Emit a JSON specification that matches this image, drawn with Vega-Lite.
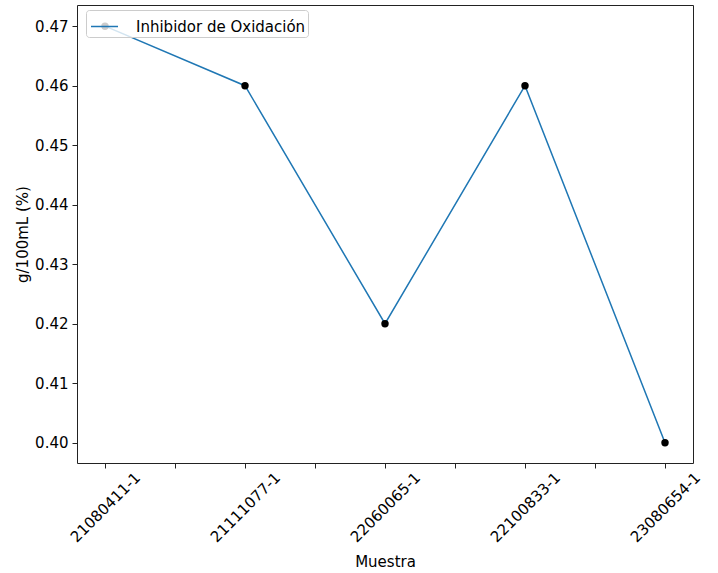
{
  "$schema": "https://vega.github.io/schema/vega-lite/v6.json",
  "width": 616,
  "height": 458,
  "autosize": {"type": "none"},
  "padding": {"left": 77, "top": 5, "right": 25, "bottom": 110},
  "config": {
    "font": "DejaVu Sans",
    "view": {"stroke": "#222", "strokeWidth": 1},
    "axis": {
      "labelFont": "DejaVu Sans",
      "titleFont": "DejaVu Sans",
      "labelFontSize": 15,
      "titleFontSize": 15,
      "titleFontWeight": "normal",
      "labelColor": "#000",
      "titleColor": "#000",
      "tickColor": "#222",
      "tickSize": 5,
      "grid": false,
      "domain": false
    }
  },
  "data": {
    "values": [
      {"idx": 0, "muestra": "21080411-1", "valor": 0.47, "serie": "Inhibidor de Oxidación"},
      {"idx": 1, "muestra": "21111077-1", "valor": 0.46, "serie": "Inhibidor de Oxidación"},
      {"idx": 2, "muestra": "22060065-1", "valor": 0.42, "serie": "Inhibidor de Oxidación"},
      {"idx": 3, "muestra": "22100833-1", "valor": 0.46, "serie": "Inhibidor de Oxidación"},
      {"idx": 4, "muestra": "23080654-1", "valor": 0.40, "serie": "Inhibidor de Oxidación"}
    ]
  },
  "encoding": {
    "x": {
      "field": "idx",
      "type": "quantitative",
      "scale": {"domain": [-0.2, 4.2], "nice": false, "zero": false},
      "axis": {
        "title": "Muestra",
        "values": [0, 0.5, 1, 1.5, 2, 2.5, 3, 3.5, 4],
        "labelExpr": "datum.value % 1 == 0 ? ['21080411-1','21111077-1','22060065-1','22100833-1','23080654-1'][datum.value] : ''",
        "labelAngle": -45,
        "labelAlign": "center",
        "labelBaseline": "middle",
        "labelPadding": 39,
        "labelFlush": false,
        "labelOverlap": false,
        "titlePadding": 10
      }
    },
    "y": {
      "field": "valor",
      "type": "quantitative",
      "scale": {"domain": [0.39659, 0.47356], "nice": false, "zero": false},
      "axis": {
        "title": "g/100mL (%)",
        "values": [0.40, 0.41, 0.42, 0.43, 0.44, 0.45, 0.46, 0.47],
        "format": ".2f",
        "labelPadding": 4,
        "titlePadding": 4
      }
    }
  },
  "layer": [
    {
      "mark": {"type": "line", "strokeWidth": 1.5},
      "encoding": {
        "color": {
          "field": "serie",
          "type": "nominal",
          "scale": {"range": ["#1f77b4"]},
          "legend": {
            "title": null,
            "orient": "none",
            "legendX": 9,
            "legendY": 5,
            "symbolType": "stroke",
            "symbolSize": 729,
            "symbolOffset": 2,
            "symbolStrokeWidth": 1.5,
            "labelFontSize": 15,
            "labelFont": "DejaVu Sans",
            "labelColor": "#000",
            "labelOffset": 17,
            "labelLimit": 400,
            "padding": 2,
            "fillColor": "rgba(255,255,255,0.8)",
            "strokeColor": "#ccc",
            "cornerRadius": 3
          }
        }
      }
    },
    {
      "mark": {"type": "point", "filled": true, "color": "#000", "opacity": 1, "size": 55}
    }
  ]
}
